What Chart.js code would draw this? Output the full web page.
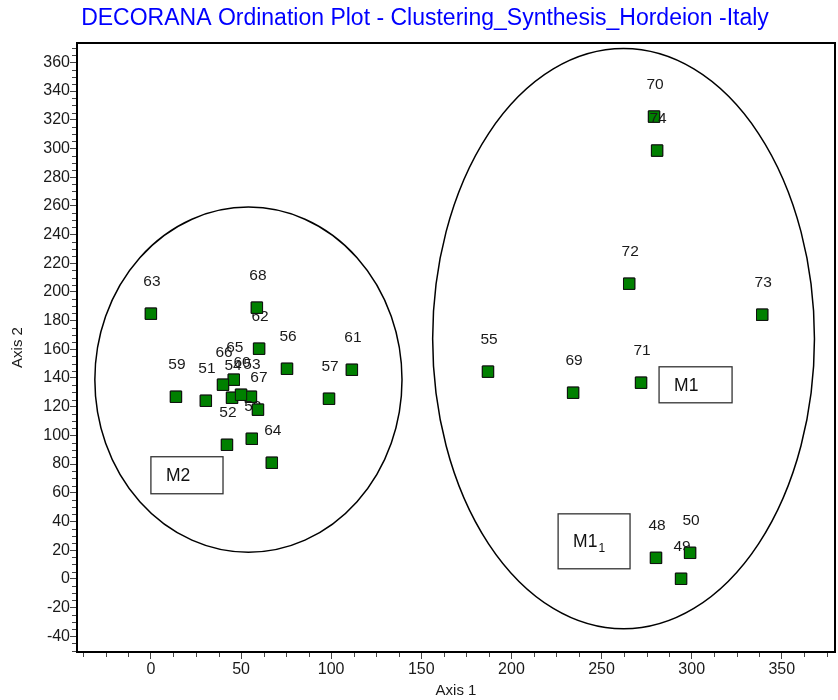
<!DOCTYPE html>
<html><head><meta charset="utf-8">
<script src="https://cdn.jsdelivr.net/npm/chart.js@4/dist/chart.umd.min.js"></script>
<style>html,body{margin:0;padding:0;background:#fff}#wrap{width:838px;height:700px}</style>
</head><body><div id="wrap"><canvas id="c" width="838" height="700"></canvas></div>
<script>
// ---- data ----
const chartTitle = 'DECORANA Ordination Plot - Clustering_Synthesis_Hordeion -Italy';
const sampleIds = ['48','49','50','51','52','53','54','55','56','57','58','59','60','61','62','63','64','65','66','67','68','69','70','71','72','73','74'];
const axis1 = [280.2, 294.1, 299.1, 30.5, 42.2, 55.5, 45.0, 187.0, 75.5, 98.8, 56.0, 13.9, 50.0, 111.5, 60.0, 0.0, 67.1, 46.0, 40.0, 59.4, 58.8, 234.2, 279.1, 271.9, 265.3, 339.1, 280.8];
const axis2 = [14.6, 0.0, 18.1, 124.1, 93.4, 126.9, 126.2, 144.4, 146.4, 125.5, 97.6, 126.9, 128.3, 145.7, 160.4, 184.8, 80.9, 138.8, 135.3, 117.9, 189.0, 129.7, 322.2, 136.7, 205.7, 184.1, 298.5];
const xTicks = [0, 50, 100, 150, 200, 250, 300, 350];
const yTicks = [-40, -20, 0, 20, 40, 60, 80, 100, 120, 140, 160, 180, 200, 220, 240, 260, 280, 300, 320, 340, 360];
const xMinorStep = 12.5;
const yMinorStep = 5;
// cluster ellipses (data units)
const ellipseCx = [54.1, 262.2];
const ellipseCy = [138.8, 167.4];
const ellipseRx = [85.2, 105.9];
const ellipseRy = [120.3, 202.2];
// group label boxes (data units)
const boxText = ['M2', 'M1', 'M1'];
const boxSub = ['', '', '1'];
const boxX0 = [0.0, 281.9, 225.9];
const boxX1 = [40.0, 322.4, 265.8];
const boxY0 = [59.3, 122.7, 7.0];
const boxY1 = [85.1, 147.8, 45.3];

const FONT = "'Liberation Sans', Arial, sans-serif";

const decor = {
  id: 'decor',
  beforeDatasetsDraw(chart) {
    const {ctx, scales: {x, y}} = chart;
    ctx.save();
    ctx.strokeStyle = '#000';
    ctx.lineWidth = 1.5;
    for (let i = 0; i < ellipseCx.length; i++) {
      const cx = x.getPixelForValue(ellipseCx[i]);
      const cy = y.getPixelForValue(ellipseCy[i]);
      const rx = Math.abs(x.getPixelForValue(ellipseCx[i] + ellipseRx[i]) - cx);
      const ry = Math.abs(y.getPixelForValue(ellipseCy[i] + ellipseRy[i]) - cy);
      ctx.beginPath();
      ctx.ellipse(cx, cy, rx, ry, 0, 0, Math.PI * 2);
      ctx.stroke();
    }
    for (let i = 0; i < boxText.length; i++) {
      const l = x.getPixelForValue(boxX0[i]), r = x.getPixelForValue(boxX1[i]);
      const t = y.getPixelForValue(boxY1[i]), b = y.getPixelForValue(boxY0[i]);
      ctx.fillStyle = '#fff';
      ctx.fillRect(l, t, r - l, b - t);
      ctx.strokeStyle = '#333';
      ctx.lineWidth = 1.3;
      ctx.strokeRect(l, t, r - l, b - t);
      ctx.fillStyle = '#111';
      ctx.font = '17.5px ' + FONT;
      ctx.textAlign = 'left';
      ctx.textBaseline = 'middle';
      const tx = l + 15, ty = (t + b) / 2 + 1;
      ctx.fillText(boxText[i], tx, ty);
      if (boxSub[i]) {
        const w = ctx.measureText(boxText[i]).width;
        ctx.font = '12px ' + FONT;
        ctx.fillText(boxSub[i], tx + w + 1, ty + 6);
      }
    }
    ctx.restore();
  },
  afterDatasetsDraw(chart) {
    const {ctx} = chart;
    const meta = chart.getDatasetMeta(0);
    ctx.save();
    for (let i = 0; i < meta.data.length; i++) {
      const el = meta.data[i];
      el.draw(ctx);
      ctx.fillStyle = '#1a1a1a';
      ctx.font = '15.5px ' + FONT;
      ctx.textAlign = 'center';
      ctx.textBaseline = 'middle';
      ctx.fillText(sampleIds[i], el.x + 1, el.y - 32);
    }
    ctx.restore();
  },
  afterDraw(chart) {
    const {ctx, chartArea: a, scales: {x, y}} = chart;
    ctx.save();
    ctx.strokeStyle = '#444';
    ctx.lineWidth = 1;
    for (let v = Math.ceil(y.min / yMinorStep) * yMinorStep; v <= y.max; v += yMinorStep) {
      if (yTicks.includes(v)) continue;
      const p = Math.round(y.getPixelForValue(v)) + 0.5;
      ctx.beginPath(); ctx.moveTo(a.left - 5, p); ctx.lineTo(a.left, p); ctx.stroke();
    }
    for (let v = Math.ceil(x.min / xMinorStep) * xMinorStep; v <= x.max; v += xMinorStep) {
      if (xTicks.includes(v)) continue;
      const p = Math.round(x.getPixelForValue(v)) + 0.5;
      ctx.beginPath(); ctx.moveTo(p, a.bottom); ctx.lineTo(p, a.bottom + 5); ctx.stroke();
    }
    ctx.strokeStyle = '#000';
    ctx.lineWidth = 2;
    ctx.strokeRect(a.left, a.top, a.right - a.left, a.bottom - a.top);
    ctx.fillStyle = '#0000ff';
    ctx.font = '23px ' + FONT;
    ctx.textAlign = 'center';
    ctx.textBaseline = 'middle';
    ctx.fillText(chartTitle, 425, 19);
    ctx.restore();
  }
};

new Chart(document.getElementById('c'), {
  type: 'scatter',
  data: {
    datasets: [{
      data: axis1.map((v, i) => ({x: v, y: axis2[i]})),
      pointStyle: 'rect',
      pointRadius: 8,
      pointBackgroundColor: '#008000',
      pointBorderColor: '#111',
      pointBorderWidth: 1
    }]
  },
  options: {
    responsive: false,
    devicePixelRatio: 1,
    animation: false,
    events: [],
    layout: {autoPadding: false, padding: {left: 0, right: 3, top: 43, bottom: 0}},
    plugins: {
      legend: {display: false},
      tooltip: {enabled: false},
      title: {display: false}
    },
    scales: {
      x: {
        type: 'linear',
        min: -41,
        max: 379.5,
        afterBuildTicks: s => { s.ticks = xTicks.map(v => ({value: v})); },
        afterFit: s => { s.height = 48; s.paddingLeft = 0; s.paddingRight = 0; },
        ticks: {color: '#1a1a1a', font: {family: FONT, size: 16}, padding: 1, maxRotation: 0, includeBounds: false},
        grid: {drawOnChartArea: false, drawTicks: true, tickLength: 7, tickColor: '#444', tickWidth: 1},
        border: {display: true, color: '#000', width: 2},
        title: {display: true, text: 'Axis 1', color: '#1a1a1a', font: {family: FONT, size: 15}, padding: {top: 0, bottom: 0}}
      },
      y: {
        type: 'linear',
        min: -51,
        max: 373.5,
        afterBuildTicks: s => { s.ticks = yTicks.map(v => ({value: v})); },
        afterFit: s => { s.width = 77; s.paddingTop = 0; s.paddingBottom = 0; },
        ticks: {color: '#1a1a1a', font: {family: FONT, size: 16}, padding: 0, includeBounds: false},
        grid: {drawOnChartArea: false, drawTicks: true, tickLength: 7, tickColor: '#444', tickWidth: 1},
        border: {display: true, color: '#000', width: 2},
        title: {display: true, text: 'Axis 2', color: '#1a1a1a', font: {family: FONT, size: 15}, padding: {top: 8.5, bottom: 0}}
      }
    }
  },
  plugins: [decor]
});
</script></body></html>
